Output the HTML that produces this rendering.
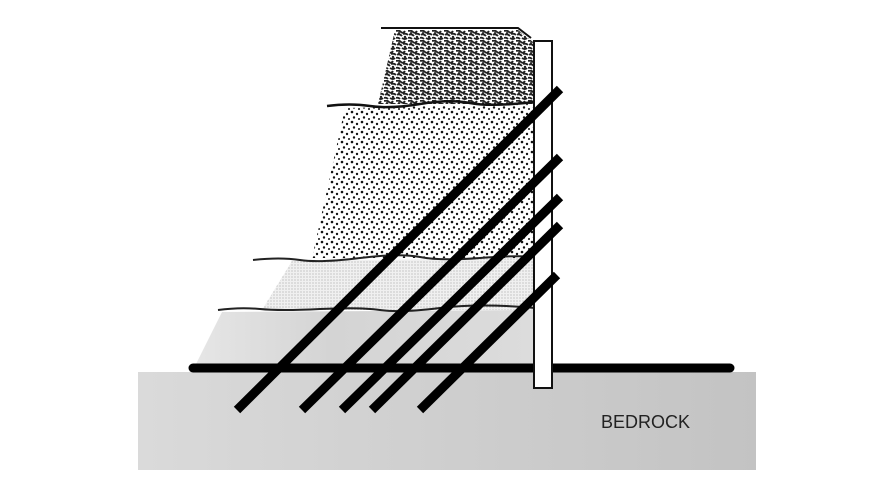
<!DOCTYPE html>
<html><head><meta charset="utf-8"><style>
html,body{margin:0;padding:0;background:#fff;width:884px;height:493px;overflow:hidden}
svg{display:block}
</style></head><body>
<svg width="884" height="493" viewBox="0 0 884 493" xmlns="http://www.w3.org/2000/svg">
<defs>
<pattern id="grav" width="12" height="10" patternUnits="userSpaceOnUse">
<rect width="12" height="10" fill="#fff"/>
<path d="M0 1 Q3 0 5 2 T9 1 M1 5 Q3 3 6 6 M7 4 Q10 3 12 5 M0 8 Q2 7 4 9 M6 8 Q9 10 11 8" stroke="#222" stroke-width="1.9" fill="none"/>
<circle cx="9" cy="7" r="1.2" fill="#222"/>
<circle cx="3" cy="3" r="1" fill="#222"/>
</pattern>
<pattern id="dots" width="10" height="10" patternUnits="userSpaceOnUse">
<rect width="10" height="10" fill="#fff"/>
<circle cx="2" cy="2" r="1.3" fill="#111"/>
<circle cx="7" cy="4" r="1.2" fill="#111"/>
<circle cx="4" cy="7.5" r="1.2" fill="#111"/>
<circle cx="9" cy="9" r="1" fill="#111"/>
</pattern>
<pattern id="fine" width="3" height="3" patternUnits="userSpaceOnUse">
<rect width="3" height="3" fill="#f0f0f0"/>
<circle cx="1" cy="1" r="0.6" fill="#aaa"/>
</pattern>
<linearGradient id="rock" x1="0" x2="1" y1="0" y2="0">
<stop offset="0" stop-color="#dadada"/><stop offset="1" stop-color="#c3c3c3"/>
</linearGradient>
<linearGradient id="grey" x1="0" x2="1" y1="0" y2="0">
<stop offset="0" stop-color="#e6e6e6"/><stop offset="0.4" stop-color="#d4d4d4"/><stop offset="1" stop-color="#dcdcdc"/>
</linearGradient>
</defs>
<rect x="138" y="372" width="618" height="98" fill="url(#rock)"/>
<polygon points="222,312 535,310 535,366 195,366" fill="url(#grey)"/>
<polygon points="292,261 535,258 535,310 262,310" fill="url(#fine)"/>
<polygon points="345,108 535,104 535,258 312,258" fill="url(#dots)"/>
<polygon points="395,30 518,30 533,42 535,104 378,104" fill="url(#grav)"/>
<path d="M381 28 L518 28 L531 38" stroke="#111" stroke-width="2" fill="none"/>
<path d="M327 106 Q350 103 370 106 T420 104 T470 103 T535 102" stroke="#111" stroke-width="2.5" fill="none"/>
<path d="M253 260 Q280 257 300 260 T360 258 T420 257 T480 258 T535 257" stroke="#222" stroke-width="2" fill="none"/>
<path d="M218 310 Q240 307 260 309 T320 309 T380 310 T440 308 T535 308" stroke="#222" stroke-width="2" fill="none"/>
<path d="M193 368 L730 368" stroke="#000" stroke-width="9" stroke-linecap="round"/>
<rect x="534" y="41" width="18" height="347" fill="#fff" stroke="#111" stroke-width="2"/>
<g stroke="#000" stroke-width="9" stroke-linecap="butt">
<line x1="560" y1="89" x2="237" y2="410"/>
<line x1="560" y1="157" x2="302" y2="410"/>
<line x1="560" y1="197" x2="342" y2="410"/>
<line x1="560" y1="225" x2="372" y2="410"/>
<line x1="557" y1="275" x2="420" y2="410"/>
</g>
<text x="601" y="428" font-family="Liberation Sans, sans-serif" font-size="18" fill="#222">BEDROCK</text>
</svg>
</body></html>
